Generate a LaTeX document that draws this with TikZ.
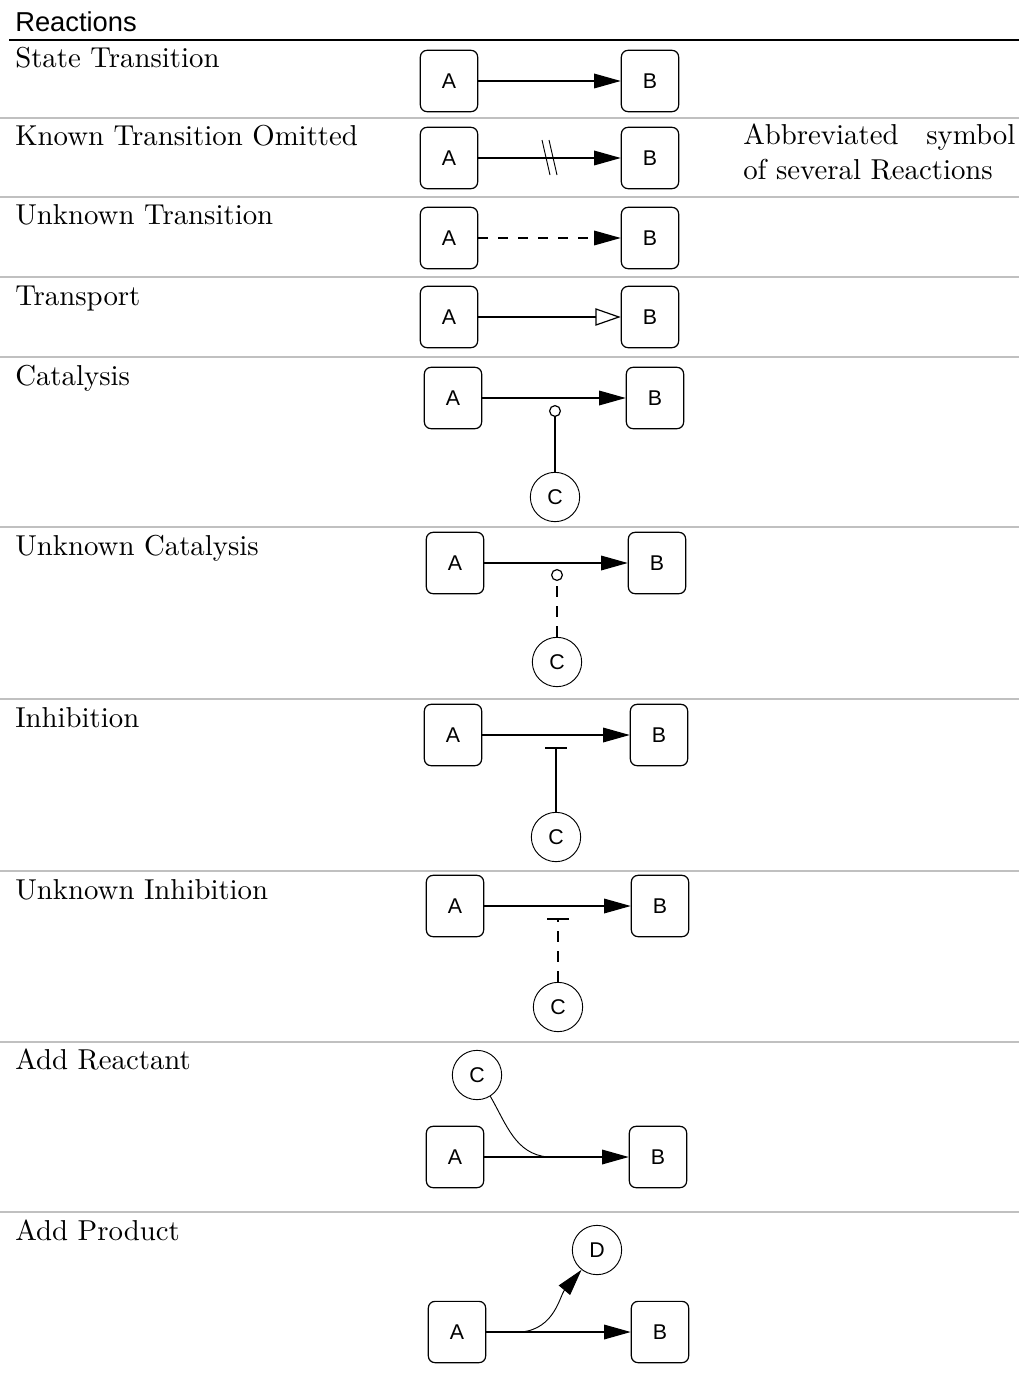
\documentclass[tikz,border=0pt]{standalone}
\usepackage{fontspec}
\setmainfont{lmroman10-regular.otf}
\newfontfamily\letterfont{Liberation Sans}
\usetikzlibrary{arrows.meta, positioning}
\usepackage{xcolor}
\definecolor{rowline}{RGB}{192,192,192}

\begin{document}
\begin{tikzpicture}[
  x=0.75pt, y=0.75pt,
    species/.style={
        draw,
        rounded corners=5pt,
        line width=0.9pt,
        minimum width=43pt,
        minimum height=46pt,
        font=\letterfont\fontsize{16}{19}\selectfont
    },
    compound/.style={
        draw,
        circle,
        line width=0.7pt,
        minimum size=37pt,
        inner sep=0pt,
        font=\letterfont\fontsize{16}{19}\selectfont
    },
    rowtext/.style={
        anchor=base west,
        inner sep=0pt,
        font=\fontsize{21.6}{26}\selectfont
    },
    reaction/.style={
        -{Triangle[length=20pt,width=11pt]},
        line width=0.9pt
    },
    modifier/.style={
        line width=0.9pt
    },
    sep/.style={
        rowline,
        line width=1.5pt
    }
]
\useasboundingbox (0,0) rectangle (1019,-1380);

\node[anchor=base west, inner sep=0pt, font=\letterfont\fontsize{20.5}{24}\selectfont] (title) at (15,-32) {Reactions};
\draw[line width=1.5pt] (9,-40) -- (1019,-40);
\foreach \y in {118,197,277,357,527,699,871,1042,1212}
  \draw[sep] (0,-\y) -- (1019,-\y);

\node[rowtext] (lblstate) at (15,-68) {State Transition};
\node[rowtext] (lblomit) at (15,-146) {Known Transition Omitted};
\node[rowtext] (lblunknown) at (15,-225) {Unknown Transition};
\node[rowtext] (lbltransport) at (15,-305) {Transport};
\node[rowtext] (lblcat) at (15,-385) {Catalysis};
\node[rowtext] (lblucat) at (15,-555) {Unknown Catalysis};
\node[rowtext] (lblinh) at (15,-727) {Inhibition};
\node[rowtext] (lbluinh) at (15,-899) {Unknown Inhibition};
\node[rowtext] (lblreact) at (15,-1069) {Add Reactant};
\node[rowtext] (lblprod) at (15,-1240) {Add Product};

\node[rowtext] (notetop) at (743,-145) {\makebox[204pt][s]{Abbreviated symbol}};
\node[rowtext] (notebottom) at (743,-180) {of several Reactions};

\node[species] (stateA) at (449,-81) {A};
\node[species] (stateB) at (650,-81) {B};
\draw[reaction] (stateA) -- (stateB);

\node[species] (omitA) at (449,-158) {A};
\node[species] (omitB) at (650,-158) {B};
\draw[reaction] (omitA) -- (omitB);
\draw[line width=0.7pt] (542,-140) -- (550,-175);
\draw[line width=0.7pt] (549,-140) -- (557,-175);

\node[species] (unknownA) at (449,-238) {A};
\node[species] (unknownB) at (650,-238) {B};
\draw[reaction, dash pattern=on 7.5pt off 7.5pt] (unknownA) -- (unknownB);

\node[species] (transportA) at (449,-317) {A};
\node[species] (transportB) at (650,-317) {B};
\draw[line width=0.9pt, -{Triangle[open,length=19pt,width=13pt]}] (transportA) -- (transportB);

\node[species] (catA) at (453,-398) {A};
\node[species] (catB) at (655,-398) {B};
\node[compound] (catC) at (555,-497) {C};
\coordinate (catJ) at (555,-405);
\draw[reaction] (catA) -- (catB);
\draw[modifier, -{Circle[open,length=9pt]}] (catC) -- (catJ);

\node[species] (ucatA) at (455,-563) {A};
\node[species] (ucatB) at (657,-563) {B};
\node[compound] (ucatC) at (557,-662) {C};
\coordinate (ucatJ) at (557,-569);
\draw[reaction] (ucatA) -- (ucatB);
\draw[modifier, dash pattern=on 8pt off 7pt, -{Circle[open,length=9pt]}] (ucatC) -- (ucatJ);

\node[species] (inhA) at (453,-735) {A};
\node[species] (inhB) at (659,-735) {B};
\node[compound] (inhC) at (556,-837) {C};
\coordinate (inhJ) at (556,-747);
\draw[reaction] (inhA) -- (inhB);
\draw[modifier, -{Bar[width=16pt,line width=1.2pt]}] (inhC) -- (inhJ);

\node[species] (uinhA) at (455,-906) {A};
\node[species] (uinhB) at (660,-906) {B};
\node[compound] (uinhC) at (558,-1007) {C};
\coordinate (uinhJ) at (558,-918);
\draw[reaction] (uinhA) -- (uinhB);
\draw[modifier, dash pattern=on 8pt off 7pt, -{Bar[width=16pt,line width=1.2pt]}] (uinhC) -- (uinhJ);

\node[species] (reactA) at (455,-1157) {A};
\node[species] (reactB) at (658,-1157) {B};
\node[compound] (reactC) at (477,-1075) {C};
\coordinate (reactJ) at (548,-1157);
\draw[reaction] (reactA) -- (reactB);
\draw[line width=0.7pt] (reactC.-58) to[out=-60, in=175] (reactJ);
\draw[line width=2.2pt] (reactJ) -- ++(9,0);

\node[species] (prodA) at (457,-1332) {A};
\node[species] (prodB) at (660,-1332) {B};
\node[compound] (prodD) at (597,-1250) {D};
\coordinate (prodJ) at (512,-1332);
\draw[reaction] (prodA) -- (prodB);
\draw[line width=2.2pt] (prodJ) -- ++(9,0);
\draw[reaction, line width=0.7pt] ([xshift=6.75pt]prodJ) to[out=5, in=-130] (prodD.232);

\end{tikzpicture}
\end{document}
